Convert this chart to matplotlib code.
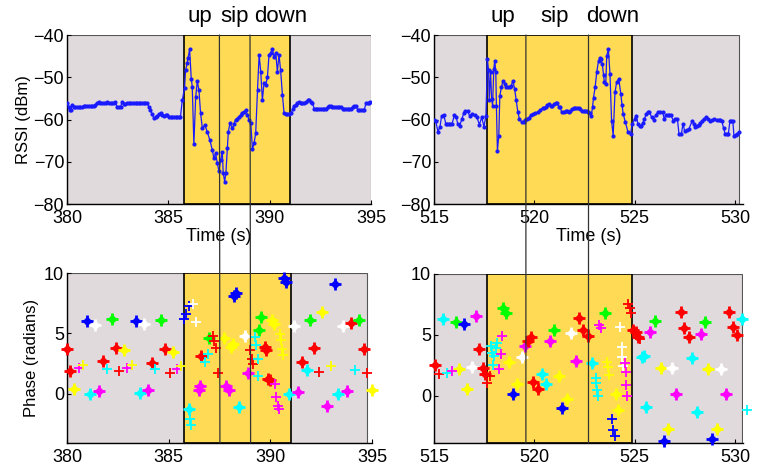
import matplotlib
matplotlib.use('Agg')
from matplotlib import pyplot as pl
from matplotlib.patches import ConnectionPatch

pl.rcParams['font.family'] = ['Liberation Sans', 'DejaVu Sans']

# ---- RSSI traces (time [s], dBm) ----
rssi_l_t = [380.00, 380.08, 380.13, 380.20, 380.25, 380.33, 380.41, 380.50, 380.58, 380.66,
            380.75, 380.83, 380.91, 380.99, 381.08, 381.16, 381.24, 381.32, 381.40, 381.49,
            381.57, 381.65, 381.73, 381.81, 381.90, 381.98, 382.06, 382.15, 382.23, 382.31,
            382.39, 382.47, 382.56, 382.64, 382.72, 382.80, 382.88, 382.96, 383.05, 383.13,
            383.21, 383.29, 383.38, 383.46, 383.54, 383.62, 383.71, 383.79, 383.87, 383.96,
            384.04, 384.12, 384.20, 384.29, 384.37, 384.45, 384.53, 384.62, 384.70, 384.78,
            384.87, 384.95, 385.03, 385.11, 385.20, 385.28, 385.36, 385.44, 385.52, 385.60,
            385.69, 385.80, 385.85, 385.93, 385.97, 386.05, 386.13, 386.18, 386.26, 386.35,
            386.43, 386.51, 386.59, 386.68, 386.80, 386.92, 387.05, 387.17, 387.25, 387.33,
            387.42, 387.50, 387.58, 387.66, 387.71, 387.78, 387.84, 387.91, 387.96, 388.04,
            388.16, 388.24, 388.32, 388.40, 388.49, 388.57, 388.65, 388.73, 388.82, 388.90,
            388.98, 389.07, 389.15, 389.23, 389.31, 389.40, 389.48, 389.56, 389.64, 389.72,
            389.81, 389.89, 389.97, 390.05, 390.13, 390.21, 390.30, 390.38, 390.46, 390.54,
            390.63, 390.71, 390.79, 390.87, 390.95, 391.07, 391.13, 391.20, 391.29, 391.37,
            391.45, 391.53, 391.62, 391.70, 391.78, 391.87, 391.95, 392.03, 392.11, 392.20,
            392.28, 392.36, 392.45, 392.53, 392.61, 392.69, 392.77, 392.86, 392.94, 393.02,
            393.10, 393.19, 393.27, 393.35, 393.44, 393.52, 393.60, 393.68, 393.76, 393.85,
            393.93, 394.01, 394.09, 394.18, 394.26, 394.34, 394.42, 394.50, 394.59, 394.67,
            394.75, 394.83, 394.91, 394.97]
rssi_l_v = [-56.2, -57.0, -57.8, -57.8, -56.6, -57.1, -57.1, -57.1, -57.1, -57.1,
            -57.0, -56.8, -56.8, -56.8, -56.8, -56.8, -56.8, -56.8, -56.5, -56.2,
            -55.8, -56.2, -56.2, -56.2, -56.0, -55.8, -56.2, -56.2, -56.2, -56.0,
            -55.8, -57.0, -57.1, -57.1, -55.8, -56.3, -56.3, -56.0, -56.0, -56.0,
            -56.2, -56.2, -56.2, -56.2, -56.2, -56.0, -56.0, -56.0, -56.2, -56.2,
            -57.0, -57.8, -58.8, -59.7, -59.5, -59.2, -58.8, -58.5, -59.0, -59.2,
            -58.9, -58.9, -59.3, -59.3, -59.3, -59.3, -59.3, -59.3, -59.3, -59.3,
            -55.4, -52.6, -48.3, -46.7, -45.5, -43.4, -50.3, -52.2, -65.8, -54.6,
            -51.0, -53.0, -58.5, -62.1, -61.3, -62.9, -64.9, -67.2, -69.2, -68.0,
            -70.4, -72.3, -69.6, -67.6, -72.7, -74.7, -72.7, -66.8, -62.9, -60.9,
            -62.1, -61.0, -60.1, -59.8, -59.3, -59.0, -58.5, -58.2, -57.8, -58.9,
            -60.1, -60.9, -67.1, -65.6, -63.3, -53.0, -44.7, -48.7, -55.4, -51.4,
            -51.8, -49.9, -44.7, -44.3, -43.2, -45.1, -44.3, -48.7, -44.7, -48.3,
            -54.2, -58.5, -58.7, -58.7, -58.7, -58.5, -57.5, -56.8, -56.5, -56.2,
            -55.8, -56.0, -56.2, -56.2, -55.8, -55.5, -55.5, -55.8, -56.2, -57.4,
            -57.4, -57.4, -57.4, -57.4, -57.4, -57.4, -57.4, -57.0, -56.8, -56.8,
            -57.1, -57.1, -57.1, -57.1, -57.1, -57.1, -57.4, -57.4, -57.4, -57.4,
            -57.4, -57.4, -57.0, -56.8, -56.8, -57.7, -57.7, -57.7, -57.7, -57.7,
            -56.2, -56.2, -56.0, -55.8]

rssi_r_t = [515.00, 515.08, 515.20, 515.30, 515.38, 515.49, 515.59, 515.66, 515.74, 515.82,
            515.90, 516.02, 516.11, 516.18, 516.28, 516.39, 516.48, 516.56, 516.67, 516.77,
            516.89, 517.02, 517.13, 517.26, 517.38, 517.49, 517.59, 517.66, 517.72, 517.75,
            517.82, 517.87, 517.92, 517.98, 518.03, 518.08, 518.11, 518.16, 518.23, 518.28,
            518.36, 518.44, 518.52, 518.60, 518.69, 518.77, 518.85, 518.93, 519.02, 519.10,
            519.18, 519.26, 519.39, 519.47, 519.56, 519.64, 519.72, 519.82, 519.92, 520.04,
            520.16, 520.28, 520.41, 520.49, 520.57, 520.65, 520.74, 520.82, 520.90, 520.98,
            521.07, 521.15, 521.23, 521.30, 521.36, 521.46, 521.56, 521.64, 521.72, 521.80,
            521.88, 521.97, 522.05, 522.13, 522.21, 522.30, 522.38, 522.46, 522.54, 522.62,
            522.70, 522.77, 522.84, 522.90, 522.95, 523.03, 523.11, 523.20, 523.27, 523.33,
            523.39, 523.45, 523.49, 523.56, 523.61, 523.69, 523.77, 523.85, 523.93, 524.02,
            524.10, 524.21, 524.31, 524.37, 524.43, 524.54, 524.67, 524.80, 524.87, 525.00,
            525.08, 525.16, 525.25, 525.33, 525.41, 525.49, 525.57, 525.66, 525.74, 525.85,
            525.95, 526.05, 526.15, 526.27, 526.39, 526.48, 526.56, 526.64, 526.72, 526.80,
            526.93, 527.03, 527.13, 527.21, 527.33, 527.41, 527.49, 527.60, 527.70, 527.87,
            527.95, 528.03, 528.11, 528.20, 528.28, 528.36, 528.47, 528.57, 528.67, 528.77,
            528.87, 528.97, 529.08, 529.18, 529.26, 529.34, 529.43, 529.51, 529.59, 529.67,
            529.75, 529.82, 529.89, 529.95, 530.03, 530.11, 530.20]
rssi_r_v = [-60.1, -60.3, -62.9, -61.7, -59.1, -58.9, -61.1, -61.1, -61.1, -61.0,
            -61.0, -58.9, -59.3, -61.1, -61.5, -59.9, -58.5, -57.9, -57.9, -59.1,
            -58.7, -58.9, -59.3, -61.2, -59.5, -61.7, -59.1, -45.7, -48.4, -55.4,
            -48.8, -55.1, -56.7, -48.0, -46.1, -48.8, -56.7, -67.4, -63.8, -54.4,
            -52.4, -50.8, -51.6, -52.2, -52.2, -52.2, -52.0, -50.8, -52.8, -55.5,
            -58.3, -59.9, -60.7, -60.5, -60.1, -59.8, -59.6, -59.0, -58.7, -58.5,
            -58.3, -57.8, -57.3, -57.3, -57.0, -56.6, -56.3, -56.7, -56.7, -56.4,
            -56.2, -56.2, -57.1, -57.1, -58.3, -58.3, -57.9, -57.9, -58.3, -58.0,
            -57.5, -57.3, -57.3, -57.3, -57.3, -57.6, -57.9, -57.9, -57.9, -58.1,
            -58.3, -58.5, -59.1, -57.1, -54.8, -52.4, -48.8, -46.1, -45.5, -45.7,
            -46.9, -49.5, -51.2, -51.6, -44.9, -43.3, -49.2, -60.3, -63.8, -53.6,
            -51.2, -50.4, -53.9, -56.5, -58.7, -60.7, -63.0, -63.4, -61.1, -59.9,
            -59.1, -61.0, -61.5, -61.5, -60.8, -59.9, -58.7, -58.3, -58.3, -59.5,
            -60.1, -59.0, -58.3, -58.3, -58.3, -59.9, -58.9, -58.9, -58.9, -58.9,
            -60.3, -59.9, -59.9, -63.4, -63.4, -61.0, -62.7, -62.5, -62.3, -60.3,
            -61.0, -61.7, -61.5, -61.2, -60.8, -60.3, -59.9, -59.5, -59.9, -60.3,
            -60.1, -59.9, -60.0, -60.1, -60.2, -60.3, -62.0, -63.4, -63.4, -63.4,
            -60.3, -60.3, -60.3, -63.8, -63.6, -63.4, -63.0]

# ---- phase clusters (time, phase [rad], colour code) ----
blobs_l = [(380.00, 3.73, 'r'), (380.16, 1.88, 'r'), (380.36, 0.41, 'y'), (380.98, 5.99, 'b'),
           (381.39, 5.66, 'w'), (381.14, -0.05, 'c'), (381.58, 0.22, 'm'), (381.79, 2.68, 'r'),
           (382.20, 6.20, 'g'), (382.41, 3.81, 'r'), (382.80, 3.59, 'y'), (383.39, 6.05, 'b'),
           (383.78, 5.75, 'w'), (383.59, 0.06, 'c'), (384.00, 0.28, 'm'), (384.17, 2.54, 'r'),
           (384.60, 6.13, 'g'), (384.81, 3.70, 'r'), (385.22, 3.45, 'y'),
           (386.00, -1.24, 'c'), (386.49, 0.28, 'm'), (386.56, 0.61, 'm'), (386.60, 3.09, 'r'),
           (387.00, 4.64, 'g'), (387.70, 4.64, 'y'), (388.07, 3.87, 'y'), (388.15, 4.14, 'y'),
           (388.23, 8.07, 'b'), (388.32, 8.34, 'b'), (387.83, 0.61, 'm'), (387.96, 0.28, 'm'),
           (388.48, -1.10, 'c'), (388.73, 4.75, 'w'), (388.89, 1.71, 'm'), (389.46, 5.25, 'g'),
           (389.56, 6.35, 'g'), (389.73, 3.87, 'r'), (389.80, 3.65, 'r'), (390.08, 6.08, 'y'),
           (390.20, 5.80, 'y'), (389.89, 1.24, 'r'), (389.97, 1.10, 'r'), (390.68, 9.61, 'b'),
           (390.79, 9.25, 'b'), (390.92, 0.00, 'c'),
           (391.17, 5.58, 'w'), (391.38, 0.14, 'm'), (391.55, 2.62, 'r'), (391.78, 1.93, 'c'),
           (391.94, 6.13, 'g'), (392.15, 3.78, 'r'), (392.56, 6.77, 'y'), (392.80, -1.05, 'm'),
           (393.17, 9.12, 'b'), (393.33, -0.05, 'c'), (393.56, 5.58, 'w'), (393.78, 0.19, 'm'),
           (393.99, 5.86, 'r'), (394.35, 6.13, 'g'), (394.59, 3.73, 'r'), (395.00, 0.33, 'y')]

crosses_l = [(380.57, 2.15, 'm'), (380.78, 2.35, 'y'), (381.96, 2.04, 'c'), (382.58, 1.88, 'r'),
             (382.93, 2.15, 'm'), (383.20, 2.35, 'y'), (384.35, 2.07, 'c'), (385.05, 1.71, 'r'),
             (385.41, 2.02, 'm'), (385.62, 2.27, 'y'),
             (385.74, 6.20, 'b'), (385.87, 6.60, 'b'), (386.00, 7.24, 'b'), (386.20, 7.46, 'w'),
             (386.33, 5.94, 'w'), (386.07, -2.15, 'c'), (386.08, -2.62, 'c'), (386.80, 2.62, 'c'),
             (386.92, 3.26, 'c'), (387.17, 4.75, 'r'), (387.25, 4.36, 'r'), (387.33, 3.81, 'r'),
             (387.44, 1.74, 'r'), (389.00, 3.65, 'r'), (389.08, 2.90, 'r'), (389.16, 2.49, 'r'),
             (389.26, 4.70, 'c'), (389.30, 4.06, 'c'), (389.38, 2.90, 'c'), (389.38, 1.44, 'c'),
             (390.24, 0.77, 'm'), (390.30, -0.28, 'm'), (390.38, -1.05, 'm'), (390.43, -1.24, 'm'),
             (390.46, 4.97, 'y'), (390.51, 4.48, 'y'), (390.57, 3.73, 'y'), (390.60, 3.18, 'y'),
             (392.40, 1.80, 'r'), (392.96, 2.27, 'y'), (394.18, 1.93, 'c'), (394.76, 1.74, 'r')]

blobs_r = [(515.05, 2.52, 'r'), (515.45, 6.27, 'c'), (516.08, 6.08, 'g'), (516.25, 2.16, 'y'),
           (516.50, 5.89, 'b'), (516.66, 0.52, 'y'), (516.88, 2.38, 'w'), (517.08, 6.55, 'm'),
           (517.24, 3.81, 'r'), (517.44, 2.25, 'r'), (517.54, 1.78, 'r'),
           (518.44, 7.18, 'g'), (518.57, 6.82, 'g'), (518.74, 2.79, 'y'), (518.94, 0.14, 'b'),
           (519.15, 0.96, 'y'), (519.37, 3.15, 'w'), (519.53, 4.08, 'm'), (519.70, 4.52, 'r'),
           (519.82, 4.85, 'r'), (519.93, 1.15, 'r'), (520.20, 0.52, 'r'), (520.37, 1.78, 'c'),
           (520.56, 0.96, 'c'), (520.76, 4.49, 'm'), (520.98, 5.40, 'g'), (521.23, 1.64, 'y'),
           (521.40, -0.99, 'b'), (521.64, -0.30, 'y'), (521.81, 5.12, 'w'), (522.06, 2.88, 'm'),
           (522.23, 6.36, 'r'), (522.43, 5.40, 'r'), (522.69, 4.90, 'r'), (522.89, 2.71, 'c'),
           (523.52, 6.77, 'g'), (524.08, 0.14, 'y'), (524.19, -1.18, 'y'), (524.92, 5.40, 'r'),
           (525.05, 5.26, 'r'),
           (525.18, 4.79, 'r'), (525.38, 3.15, 'c'), (525.47, 3.26, 'c'), (525.75, 5.26, 'm'),
           (525.55, -0.96, 'c'), (526.01, 6.16, 'g'), (526.30, 2.25, 'y'), (526.46, -3.70, 'b'),
           (526.68, -2.77, 'y'), (526.84, 2.25, 'w'), (527.04, 0.11, 'm'), (527.29, 6.90, 'r'),
           (527.46, 5.53, 'r'), (527.71, 4.79, 'r'), (527.87, 3.07, 'c'), (528.09, -1.37, 'c'),
           (528.29, 5.04, 'm'), (528.50, 6.08, 'g'), (528.67, 2.16, 'y'), (528.87, -3.59, 'b'),
           (529.12, -2.77, 'y'), (529.29, 2.19, 'w'), (529.53, 0.14, 'm'), (529.70, 6.90, 'r'),
           (529.90, 5.67, 'r'), (530.12, 4.99, 'r'), (530.36, 6.27, 'c')]

crosses_r = [(515.25, 1.78, 'r'), (515.66, 1.89, 'c'), (515.91, 2.05, 'm'), (517.66, 1.07, 'r'),
             (517.77, 1.62, 'r'), (517.82, 4.08, 'c'), (517.91, 3.53, 'c'), (517.99, 3.26, 'c'),
             (517.94, 2.52, 'c'), (518.11, 3.89, 'c'), (518.16, 4.36, 'c'), (518.37, 4.90, 'm'),
             (518.32, 3.42, 'm'), (518.24, 2.16, 'm'), (523.06, 1.42, 'c'), (523.09, 1.01, 'c'),
             (523.14, 0.47, 'c'), (523.19, -0.03, 'c'), (523.22, 5.81, 'm'), (523.31, 5.53, 'm'),
             (523.64, 2.79, 'y'), (523.69, 2.38, 'y'), (523.72, 1.70, 'y'), (523.89, -1.95, 'b'),
             (523.94, -2.82, 'b'), (524.00, -3.32, 'b'), (524.25, 5.62, 'w'), (524.35, 4.03, 'w'),
             (524.39, 3.21, 'w'), (524.42, 2.44, 'w'), (524.52, 2.66, 'm'), (524.55, 1.97, 'm'),
             (524.58, 0.88, 'm'), (524.63, -0.03, 'm'), (524.68, 7.53, 'r'), (524.75, 7.18, 'r'),
             (524.80, 6.82, 'r'), (525.25, 4.63, 'r'), (530.60, -1.18, 'c')]

# ---- gesture segments: start of up, up|sip, sip|down, end of down ----
seg_l = [385.75, 387.52, 389.03, 391.0]
seg_r = [517.62, 519.58, 522.7, 524.85]
phase_labels = ['up', 'sip', 'down']
label_x_l = [386.55, 388.25, 390.55]
label_x_r = [518.44, 521.0, 523.93]

colmap = {'r': '#ff0000', 'b': '#0000ff', 'g': '#00ff00', 'y': '#ffff00',
          'c': '#00ffff', 'm': '#ff00ff', 'w': '#ffffff'}
grey = '#e1dadc'
yellow = '#ffda55'

W, H = 761, 470
fig = pl.figure(figsize=(W/100, H/100), dpi=100)
ax1 = fig.add_axes([67/W, 1-204/H, 304/W, 169/H])
ax2 = fig.add_axes([434/W, 1-204/H, 309/W, 169/H])
ax3 = fig.add_axes([67/W, 1-443/H, 305/W, 170/H])
ax4 = fig.add_axes([434/W, 1-443/H, 309/W, 169/H])


def style(ax, xlim, ylim, xt, yt, win, seg):
    ax.set_xlim(*xlim)
    ax.set_ylim(*ylim)
    ax.axvspan(win[0], win[1], facecolor=grey, edgecolor='#555555', lw=0.8, zorder=0)
    ax.axvspan(seg[0], seg[-1], facecolor=yellow, edgecolor='black', lw=1.2, zorder=0.5)
    ax.set_xticks(xt)
    ax.set_yticks(yt)
    ax.tick_params(axis='x', direction='in', length=3, pad=4, labelsize=13)
    ax.tick_params(axis='y', direction='in', length=3, pad=2, labelsize=13)
    for s in ['top', 'right']:
        ax.spines[s].set_visible(False)
    for s in ['left', 'bottom']:
        ax.spines[s].set_linewidth(1.0)


style(ax1, (380, 395), (-80, -40), [380, 385, 390, 395], [-80, -70, -60, -50, -40], (380, 395), seg_l)
style(ax2, (515, 530.4), (-80, -40), [515, 520, 525, 530], [-80, -70, -60, -50, -40], (515, 530.2), seg_r)
style(ax3, (380, 395), (-4.1, 10), [380, 385, 390, 395], [0, 5, 10], (380, 394.75), seg_l)
style(ax4, (515, 530.4), (-3.9, 10), [515, 520, 525, 530], [0, 5, 10], (515, 530.36), seg_r)

for ax, t, v in [(ax1, rssi_l_t, rssi_l_v), (ax2, rssi_r_t, rssi_r_v)]:
    ax.plot(t, v, color='#1a1aff', lw=0.9, marker='.', ms=4, zorder=3)
    ax.set_xlabel('Time (s)', fontsize=13, labelpad=1)

ax1.set_ylabel('RSSI (dBm)', fontsize=12, labelpad=2)
ax3.set_ylabel('Phase (radians)', fontsize=12, labelpad=4)

for ax, blobs, crosses in [(ax3, blobs_l, crosses_l), (ax4, blobs_r, crosses_r)]:
    for t, p, c in blobs:
        ax.plot(t, p, marker='D', ms=4.2, color=colmap[c], mec=colmap[c], zorder=3, clip_on=False)
        ax.plot(t, p, marker='+', ms=8, mew=2.0, color=colmap[c], zorder=3, clip_on=False)
    for t, p, c in crosses:
        ax.plot(t, p, marker='+', ms=7, mew=1.3, color=colmap[c], zorder=3, clip_on=False)

# thin lines marking up|sip and sip|down, running through both panels
for top, bot, seg in [(ax1, ax3, seg_l), (ax2, ax4, seg_r)]:
    for x in seg[1:3]:
        con = ConnectionPatch(xyA=(x, top.get_ylim()[1]), coordsA=top.transData,
                              xyB=(x, bot.get_ylim()[0]), coordsB=bot.transData,
                              color='#333333', lw=0.9, zorder=5)
        fig.add_artist(con)

for ax, xs in [(ax1, label_x_l), (ax2, label_x_r)]:
    for x, lab in zip(xs, phase_labels):
        ax.text(x, 1.11, lab, transform=ax.get_xaxis_transform(), ha='center', va='center',
                fontsize=16)

fig.savefig('out.png', dpi=100)
